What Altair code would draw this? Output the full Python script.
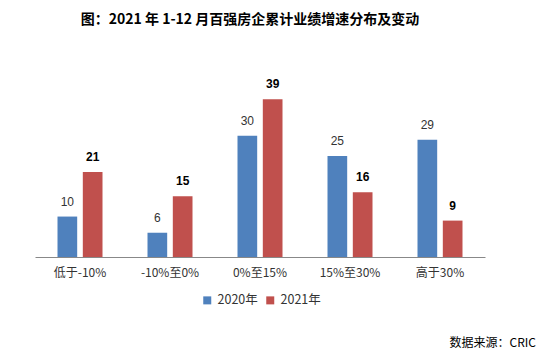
import altair as alt
import pandas as pd

categories = ["低于-10%", "-10%至0%", "0%至15%", "15%至30%", "高于30%"]
years = ["2020年", "2021年"]
values_2020 = [10, 6, 30, 25, 29]
values_2021 = [21, 15, 39, 16, 9]

rows = []
for c, v in zip(categories, values_2020):
    rows.append({"cat": c, "year": years[0], "value": v})
for c, v in zip(categories, values_2021):
    rows.append({"cat": c, "year": years[1], "value": v})
df = pd.DataFrame(rows)

x_enc = alt.X("cat:N", sort=categories, title=None,
              scale=alt.Scale(paddingInner=0.5, paddingOuter=0.25),
              axis=alt.Axis(labelAngle=0, ticks=False, domainColor="#888888",
                            labelColor="#333333", labelFontSize=12, labelPadding=10,
                            labelFont="Noto Sans CJK SC", grid=False))
xo_enc = alt.XOffset("year:N", sort=years,
                     scale=alt.Scale(paddingInner=0.222, paddingOuter=0))
y_enc = alt.Y("value:Q", scale=alt.Scale(domain=[0, 45]), axis=None)

bars = alt.Chart(df).mark_bar().encode(
    x=x_enc, xOffset=xo_enc, y=y_enc,
    color=alt.Color("year:N", sort=years,
                    scale=alt.Scale(domain=years, range=["#4F81BD", "#C0504D"]),
                    legend=alt.Legend(title=None, orient="none", direction="horizontal",
                                      legendX=166, legendY=219, symbolType="square",
                                      symbolSize=64, symbolStrokeWidth=0,
                                      labelFontSize=12.5, labelColor="#333333",
                                      labelFont="Noto Sans CJK SC", columnPadding=6,
                                      symbolOffset=0)),
)

lbl20 = alt.Chart(df).transform_filter(alt.datum.year == years[0]).mark_text(
    dy=-15, fontSize=12, color="#333333", font="Liberation Sans", baseline="middle"
).encode(x=x_enc, xOffset=xo_enc, y=y_enc, text="value:Q")

lbl21 = alt.Chart(df).transform_filter(alt.datum.year == years[1]).mark_text(
    dy=-15, fontSize=12, color="#000000", font="Liberation Sans", fontWeight="bold",
    baseline="middle"
).encode(x=x_enc, xOffset=xo_enc, y=y_enc, text="value:Q")

source = alt.Chart(pd.DataFrame({"t": ["数据来源：CRIC"]})).mark_text(
    align="right", baseline="middle", fontSize=12, font="Noto Sans CJK SC", color="#000000"
).encode(x=alt.value(501), y=alt.value(268), text="t:N")

chart = alt.layer(bars, lbl20, lbl21, source).properties(
    width=450, height=182,
    view=alt.ViewBackground(stroke="transparent", strokeWidth=0),
    title=alt.TitleParams("图：2021 年 1-12 月百强房企累计业绩增速分布及变动",
                          fontSize=14, fontWeight="bold", font="Noto Sans CJK SC",
                          anchor="middle", offset=48, dx=-10, color="#000000"),
    autosize=alt.AutoSizeParams(type="none"),
    padding={"left": 27, "top": 67, "right": 52, "bottom": 95},
).configure_view(strokeWidth=0, stroke="transparent").configure(background="white")

chart.save("out.html", embed_options={"renderer": "svg", "actions": False})
